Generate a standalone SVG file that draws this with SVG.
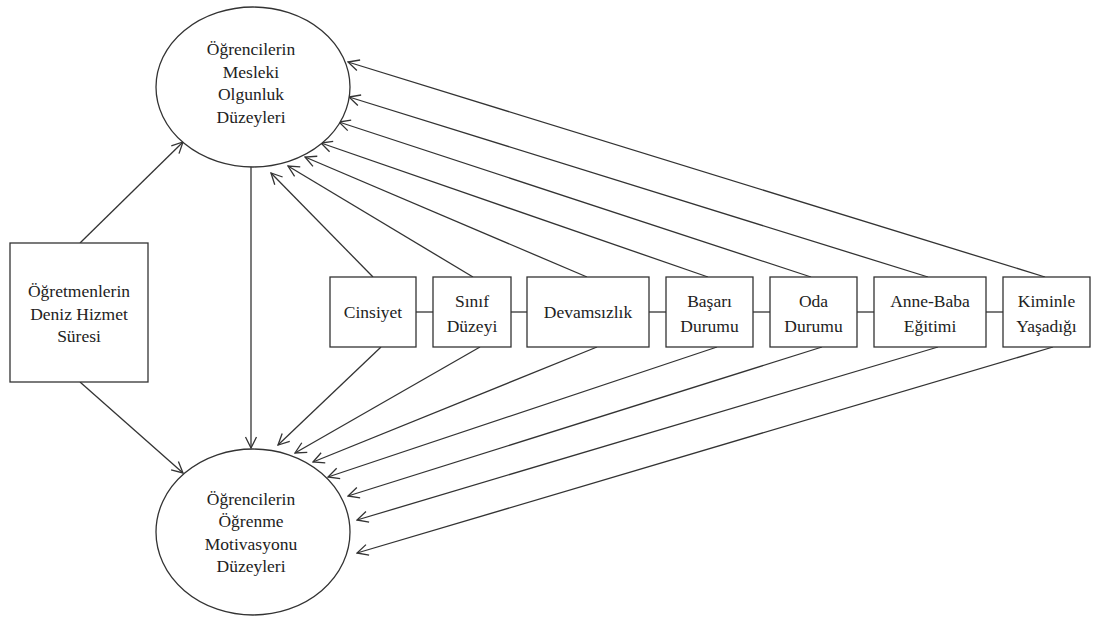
<svg xmlns="http://www.w3.org/2000/svg" width="1093" height="618" viewBox="0 0 1093 618" font-family="Liberation Serif, DejaVu Serif, serif">
<defs>
<marker id="arr" viewBox="-13 -7 14 14" refX="0" refY="0" markerWidth="14" markerHeight="14" orient="auto" markerUnits="userSpaceOnUse">
<path d="M-11,-5.5 L0,0 L-11,5.5" fill="none" stroke="#333" stroke-width="1.3"/>
</marker>
<style>
.shape{fill:#fff;stroke:#333;stroke-width:1.3}
.t{font-size:17.5px;fill:#222;text-anchor:middle}
.c{stroke:#333;stroke-width:1.3;fill:none}
.a{stroke:#333;stroke-width:1.3;fill:none;marker-end:url(#arr)}
</style>
</defs>
<rect width="1093" height="618" fill="#fff"/>
<g id="connectors">
<line class="a" x1="80" y1="243" x2="183" y2="142"/>
<line class="a" x1="80" y1="382" x2="183" y2="473"/>
<line class="a" x1="251" y1="166" x2="251" y2="448"/>
<line class="a" x1="373" y1="277" x2="271" y2="173"/>
<line class="a" x1="473" y1="277" x2="288" y2="166"/>
<line class="a" x1="587" y1="277" x2="305" y2="157"/>
<line class="a" x1="708" y1="277" x2="321" y2="143"/>
<line class="a" x1="811" y1="277" x2="339" y2="122"/>
<line class="a" x1="928" y1="277" x2="349" y2="97"/>
<line class="a" x1="1045" y1="277" x2="348" y2="62"/>
<line class="a" x1="381" y1="347" x2="278" y2="445"/>
<line class="a" x1="480" y1="347" x2="295" y2="453"/>
<line class="a" x1="597" y1="347" x2="313" y2="462"/>
<line class="a" x1="717" y1="347" x2="328" y2="477"/>
<line class="a" x1="822" y1="347" x2="348" y2="496"/>
<line class="a" x1="938" y1="347" x2="357" y2="520"/>
<line class="a" x1="1053" y1="347" x2="357" y2="553"/>
<line class="c" x1="416" y1="312" x2="433" y2="312"/>
<line class="c" x1="511" y1="312" x2="527" y2="312"/>
<line class="c" x1="649" y1="312" x2="666" y2="312"/>
<line class="c" x1="753" y1="312" x2="770" y2="312"/>
<line class="c" x1="857" y1="312" x2="874" y2="312"/>
<line class="c" x1="986" y1="312" x2="1003" y2="312"/>
</g>
<g id="mesleki">
<ellipse class="shape" cx="253" cy="87" rx="97" ry="80"/>
<text class="t" x="251" y="55">Öğrencilerin</text>
<text class="t" x="251" y="77.5">Mesleki</text>
<text class="t" x="251" y="100">Olgunluk</text>
<text class="t" x="251" y="122.5">Düzeyleri</text>
</g>
<g id="motivasyon">
<ellipse class="shape" cx="253" cy="532" rx="97" ry="83"/>
<text class="t" x="251" y="505">Öğrencilerin</text>
<text class="t" x="251" y="527">Öğrenme</text>
<text class="t" x="251" y="549.5">Motivasyonu</text>
<text class="t" x="251" y="572">Düzeyleri</text>
</g>
<g id="deniz">
<rect class="shape" x="10" y="243" width="138" height="139"/>
<text class="t" x="79" y="297">Öğretmenlerin</text>
<text class="t" x="79" y="319.5">Deniz Hizmet</text>
<text class="t" x="79" y="342">Süresi</text>
</g>
<g id="cinsiyet">
<rect class="shape" x="330" y="277" width="86" height="70"/>
<text class="t" x="373" y="318">Cinsiyet</text>
</g>
<g id="sinif">
<rect class="shape" x="433" y="277" width="78" height="70"/>
<text class="t" x="472" y="307">Sınıf</text>
<text class="t" x="472" y="332">Düzeyi</text>
</g>
<g id="devamsizlik">
<rect class="shape" x="527" y="277" width="122" height="70"/>
<text class="t" x="588" y="318">Devamsızlık</text>
</g>
<g id="basari">
<rect class="shape" x="666" y="277" width="87" height="70"/>
<text class="t" x="709.5" y="307">Başarı</text>
<text class="t" x="709.5" y="332">Durumu</text>
</g>
<g id="oda">
<rect class="shape" x="770" y="277" width="87" height="70"/>
<text class="t" x="813.5" y="307">Oda</text>
<text class="t" x="813.5" y="332">Durumu</text>
</g>
<g id="anne-baba">
<rect class="shape" x="874" y="277" width="112" height="70"/>
<text class="t" x="930" y="307">Anne-Baba</text>
<text class="t" x="930" y="332">Eğitimi</text>
</g>
<g id="kiminle">
<rect class="shape" x="1003" y="277" width="87" height="70"/>
<text class="t" x="1046.5" y="307">Kiminle</text>
<text class="t" x="1046.5" y="332">Yaşadığı</text>
</g>
</svg>
